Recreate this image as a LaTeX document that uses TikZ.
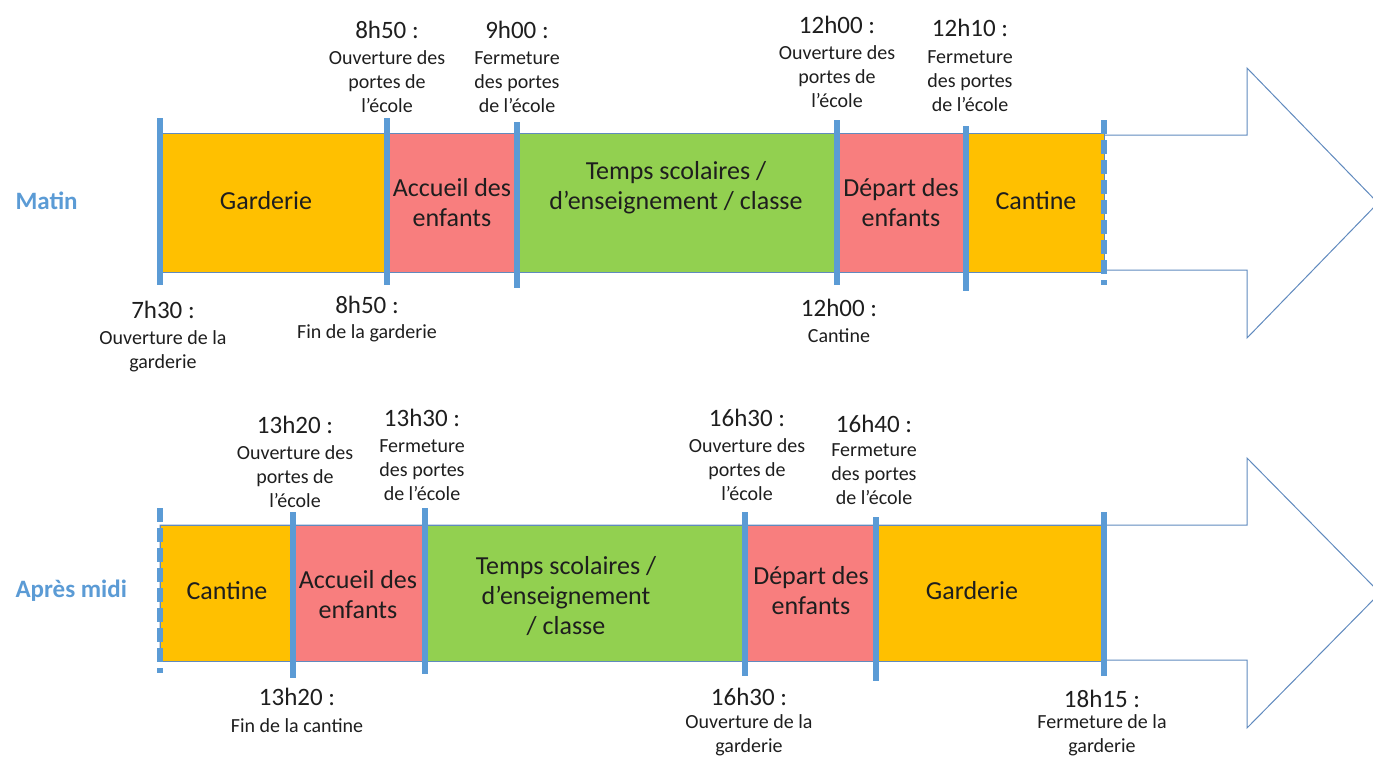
\documentclass[tikz,border=0pt]{standalone}
\usepackage{fontspec}
\setmainfont{Carlito}
\begin{document}
\begin{tikzpicture}[x=1pt,y=-1pt]

\definecolor{myblue}{RGB}{91,155,213}
\definecolor{myline}{RGB}{96,138,190}
\definecolor{myorange}{RGB}{255,192,0}
\definecolor{myred}{RGB}{248,126,126}
\definecolor{mygreen}{RGB}{146,208,80}
\definecolor{mytext}{RGB}{30,30,30}
\tikzset{
  bloc/.style={font=\fontsize{26}{30}\selectfont, text=mytext, align=center},
  heure/.style={font=\fontsize{25}{28}\selectfont, text=mytext},
  legende/.style={font=\fontsize{20}{24}\selectfont, text=mytext, align=center},
  titre/.style={font=\fontsize{25}{28}\selectfont\bfseries, text=myblue, anchor=west},
  jalon/.style={line width=6pt, myblue},
  fleche/.style={myline, line width=1pt},
  case/.style={myline, line width=0.8pt}
}
\useasboundingbox (0,0) rectangle (1373,760);

% matin
\draw[fleche] (160,135) -- (1247,135) -- (1247,68) -- (1378,203) -- (1247,338) -- (1247,270) -- (160,270) -- cycle;
\draw[case, fill=myorange] (160,133) rectangle (387,272);
\draw[case, fill=myred] (387,133) rectangle (517,272);
\draw[case, fill=mygreen] (517,133) rectangle (837,272);
\draw[case, fill=myred] (837,133) rectangle (966,272);
\draw[case, fill=myorange] (966,133) rectangle (1104,272);
\node[titre] (matin) at (12,201) {Matin};
\node[bloc] (garderieM) at (266,201) {Garderie};
\node[bloc] (accueilM) at (452,203) {Accueil des\\enfants};
\node[bloc] (tempsM) at (676,188) {Temps scolaires /\\d’enseignement / classe};
\node[bloc] (departM) at (901,203) {Départ des\\enfants};
\node[bloc] (cantineM) at (1036,201) {Cantine};
\draw[jalon] (160,118) -- (160,285);
\draw[jalon] (387,118) -- (387,285);
\draw[jalon] (517,122) -- (517,288);
\draw[jalon] (837,120) -- (837,285);
\draw[jalon] (966,126) -- (966,291);
\draw[jalon, dash pattern=on 14pt off 6pt] (1104,120) -- (1104,285);
\node[heure] (h0730) at (163,310) {7h30 :};
\node[legende] (l0730) at (163,351) {Ouverture de la\\garderie};
\node[heure] (h0850a) at (387,30) {8h50 :};
\node[legende] (l0850a) at (387,82) {Ouverture des\\portes de\\l’école};
\node[heure] (h0850b) at (367,305) {8h50 :};
\node[legende] (l0850b) at (367,333) {Fin de la garderie};
\node[heure] (h0900) at (517,30) {9h00 :};
\node[legende] (l0900) at (517,82) {Fermeture\\des portes\\de l’école};
\node[heure] (h1200a) at (837,25) {12h00 :};
\node[legende] (l1200a) at (837,77) {Ouverture des\\portes de\\l’école};
\node[heure] (h1200b) at (839,308) {12h00 :};
\node[legende] (l1200b) at (839,336) {Cantine};
\node[heure] (h1210) at (970,28) {12h10 :};
\node[legende] (l1210) at (970,81) {Fermeture\\des portes\\de l’école};

% apres midi
\draw[fleche] (160,525) -- (1247,525) -- (1247,458) -- (1380,593) -- (1247,728) -- (1247,660) -- (160,660) -- cycle;
\draw[case, fill=myorange] (160,525) rectangle (293,661);
\draw[case, fill=myred] (293,525) rectangle (425,661);
\draw[case, fill=mygreen] (425,525) rectangle (745,661);
\draw[case, fill=myred] (745,525) rectangle (876,661);
\draw[case, fill=myorange] (876,525) rectangle (1104,661);
\node[titre] (apresmidi) at (12,591) {Après midi};
\node[bloc] (cantineA) at (227,591) {Cantine};
\node[bloc] (accueilA) at (358,595) {Accueil des\\enfants};
\node[bloc] (tempsA) at (566,596) {Temps scolaires /\\d’enseignement\\/ classe};
\node[bloc] (departA) at (811,591) {Départ des\\enfants};
\node[bloc] (garderieA) at (972,591) {Garderie};
\draw[jalon, dash pattern=on 14pt off 6pt] (160,508) -- (160,673);
\draw[jalon] (293,512) -- (293,678);
\draw[jalon] (425,508) -- (425,674);
\draw[jalon] (745,512) -- (745,676);
\draw[jalon] (876,517) -- (876,681);
\draw[jalon] (1104,512) -- (1104,676);
\node[heure] (h1320a) at (295,425) {13h20 :};
\node[legende] (l1320a) at (295,477) {Ouverture des\\portes de\\l’école};
\node[heure] (h1320b) at (297,697) {13h20 :};
\node[legende] (l1320b) at (297,726) {Fin de la cantine};
\node[heure] (h1330) at (422,418) {13h30 :};
\node[legende] (l1330) at (422,470) {Fermeture\\des portes\\de l’école};
\node[heure] (h1630a) at (747,418) {16h30 :};
\node[legende] (l1630a) at (747,470) {Ouverture des\\portes de\\l’école};
\node[heure] (h1630b) at (749,697) {16h30 :};
\node[legende] (l1630b) at (749,735) {Ouverture de la\\garderie};
\node[heure] (h1640) at (874,424) {16h40 :};
\node[legende] (l1640) at (874,474) {Fermeture\\des portes\\de l’école};
\node[heure] (h1815) at (1102,699) {18h15 :};
\node[legende] (l1815) at (1102,735) {Fermeture de la\\garderie};
\end{tikzpicture}
\end{document}
